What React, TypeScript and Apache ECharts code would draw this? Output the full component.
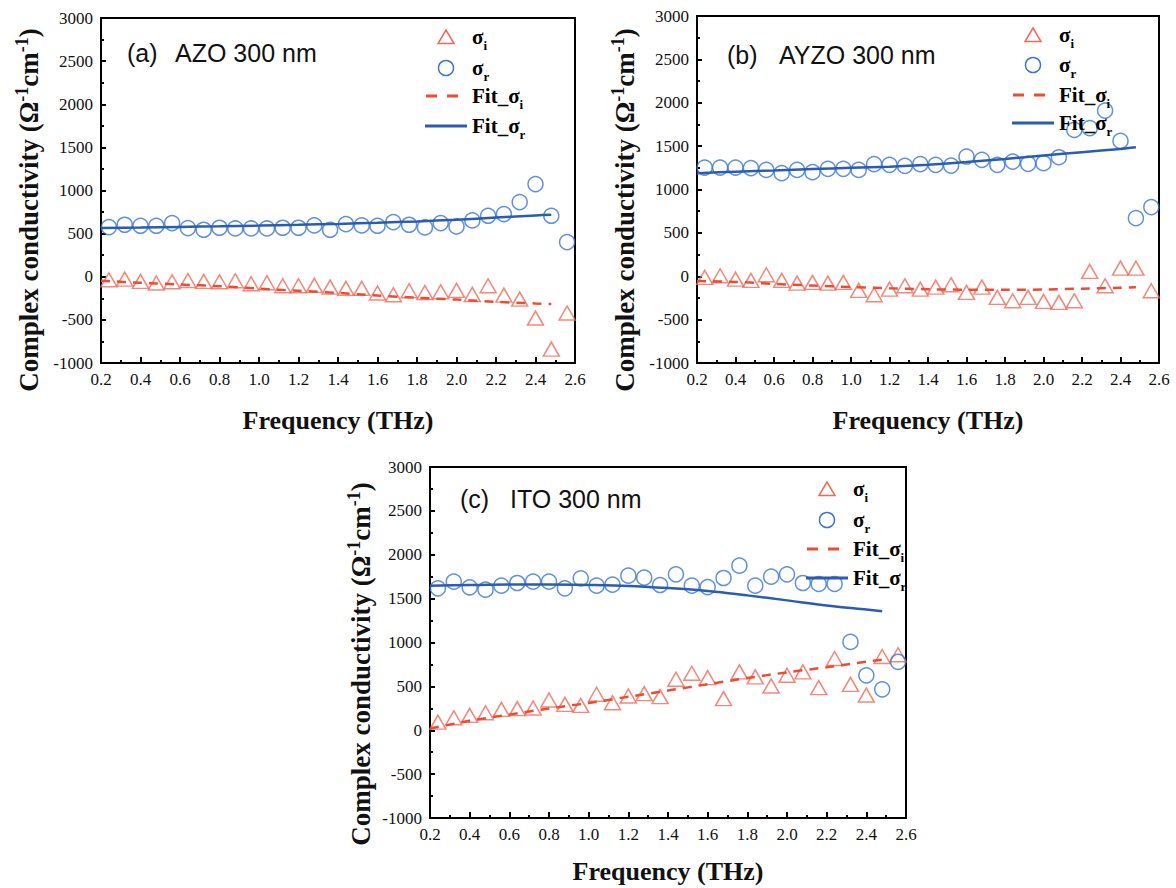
import React, { useEffect, useRef } from "react";
import * as echarts from "echarts";

// ---- data ----
const freq = [0.24, 0.32, 0.40, 0.48, 0.56, 0.64, 0.72, 0.80, 0.88, 0.96, 1.04, 1.12, 1.20, 1.28, 1.36, 1.44, 1.52, 1.60, 1.68, 1.76, 1.84, 1.92, 2.00, 2.08, 2.16, 2.24, 2.32, 2.40, 2.48, 2.56];
const fitFreq = [0.2, 0.4, 0.6, 0.8, 1.0, 1.2, 1.4, 1.6, 1.8, 2.0, 2.2, 2.4, 2.48];

const azoSigmaR = [576, 603, 591, 591, 622, 564, 545, 568, 560, 560, 560, 568, 568, 595, 545, 610, 595, 591, 634, 603, 572, 622, 584, 653, 707, 727, 866, 1074, 707, 402];
const azoSigmaI = [-35, -27, -54, -73, -58, -43, -54, -58, -46, -81, -70, -104, -104, -100, -120, -135, -135, -189, -209, -162, -182, -174, -158, -205, -104, -213, -259, -479, -839, -421];
const azoFitR = [564, 570, 578, 585, 593, 602, 613, 626, 642, 661, 686, 711, 720];
const azoFitI = [-45, -70, -90, -110, -138, -163, -188, -218, -243, -265, -290, -310, -317];

const ayzoSigmaR = [1253, 1253, 1253, 1246, 1226, 1188, 1226, 1200, 1238, 1238, 1226, 1292, 1284, 1273, 1292, 1284, 1276, 1380, 1342, 1284, 1322, 1296, 1303, 1372, 1687, 1707, 1910, 1560, 670, 797];
const ayzoSigmaI = [-13, 6, -33, -48, 17, -48, -79, -71, -79, -71, -163, -213, -148, -109, -148, -125, -98, -186, -125, -244, -282, -244, -290, -301, -282, 56, -109, 94, 94, -167];
const ayzoFitR = [1188, 1205, 1220, 1236, 1250, 1263, 1285, 1316, 1352, 1392, 1430, 1468, 1488];
const ayzoFitI = [-55, -65, -88, -107, -125, -139, -150, -155, -156, -153, -143, -132, -128];

const itoSigmaR = [1617, 1693, 1629, 1602, 1648, 1678, 1693, 1693, 1617, 1731, 1648, 1659, 1762, 1739, 1655, 1777, 1648, 1632, 1735, 1876, 1648, 1750, 1777, 1678, 1667, 1667, 1007, 626, 466, 780];
const itoSigmaI = [93, 143, 170, 200, 238, 246, 253, 345, 295, 284, 410, 314, 390, 417, 383, 581, 650, 600, 360, 665, 608, 505, 627, 665, 486, 817, 523, 401, 840, 860];
const itoFitR = [1648, 1655, 1660, 1660, 1655, 1645, 1620, 1587, 1537, 1480, 1422, 1375, 1356];
const itoFitI = [20, 108, 178, 248, 310, 382, 452, 525, 595, 660, 718, 782, 805];

const panelTags = ["(a)", "(b)", "(c)"];
const panelNames = ["AZO 300 nm", "AYZO 300 nm", "ITO 300 nm"];
const legendNames = ["σi", "σr", "Fit_σi", "Fit_σr"];
const yTitle = "Complex conductivity";
const xTitle = "Frequency (THz)";

// ---- layout / style ----
const SERIF = "Liberation Serif";
const SANS = "Liberation Sans";
const RED = "#f06a5a";
const BLUE = "#3a76d2";
const FIT_RED = "#ee4a34";
const FIT_BLUE = "#2b5cb0";

const grids = [
  { left: 101, top: 18, width: 474, height: 345 },
  { left: 697, top: 16, width: 462, height: 347 },
  { left: 430, top: 467, width: 476, height: 351 },
];
const legendPos = [
  { x: 425, rows: [37, 68, 96, 126] },
  { x: 1012, rows: [35, 65, 95, 123] },
  { x: 806, rows: [489, 520, 549, 578] },
];
const tagOffset = [
  { tx: 26, nx: 74, y: 53 },
  { tx: 30, nx: 82, y: 55 },
  { tx: 30, nx: 80, y: 499 },
];
const yTitlePos = [
  { x: 29, y: 210 },
  { x: 625, y: 210 },
  { x: 361, y: 664 },
];
const xTitleY = [420, 420, 871];

function pairs(xs: number[], ys: number[]) {
  return xs.map((x, i) => [x, ys[i]]);
}

export default function App() {
  const ref = useRef<HTMLDivElement>(null);
  useEffect(() => {
    if (!ref.current) return;
    const chart = echarts.init(ref.current, undefined, { renderer: "svg" });
    const sets = [
      [azoSigmaI, azoSigmaR, azoFitI, azoFitR],
      [ayzoSigmaI, ayzoSigmaR, ayzoFitI, ayzoFitR],
      [itoSigmaI, itoSigmaR, itoFitI, itoFitR],
    ];

    const labelStyle = { fontFamily: SERIF, fontSize: 17, color: "#111" };
    const xAxes = grids.map((_, i) => ({
      type: "value",
      gridIndex: i,
      min: 0.2,
      max: 2.6,
      interval: 0.2,
      axisLine: { show: true, onZero: false, lineStyle: { color: "#000", width: 2 } },
      axisTick: { show: true, inside: true, length: 6, lineStyle: { color: "#000", width: 2 } },
      minorTick: { show: true, splitNumber: 2, length: 3, lineStyle: { color: "#000", width: 2 } },
      splitLine: { show: false },
      axisLabel: { ...labelStyle, margin: 8, formatter: (v: number) => v.toFixed(1) },
    }));
    const yAxes = grids.map((_, i) => ({
      type: "value",
      gridIndex: i,
      min: -1000,
      max: 3000,
      interval: 500,
      axisLine: { show: true, onZero: false, lineStyle: { color: "#000", width: 2 } },
      axisTick: { show: true, inside: true, length: 5, lineStyle: { color: "#000", width: 2 } },
      minorTick: { show: true, splitNumber: 2, length: 3, lineStyle: { color: "#000", width: 2 } },
      splitLine: { show: false },
      axisLabel: { ...labelStyle, margin: 8, formatter: (v: number) => String(v) },
    }));

    const series: any[] = [];
    sets.forEach((s, i) => {
      series.push({
        name: legendNames[0],
        type: "scatter",
        xAxisIndex: i,
        yAxisIndex: i,
        symbol: "triangle",
        symbolSize: [16, 14],
        itemStyle: { color: "rgba(255,255,255,0)", borderColor: RED, borderWidth: 1.5 },
        data: pairs(freq, s[0]),
        z: 2,
      });
      series.push({
        name: legendNames[1],
        type: "scatter",
        xAxisIndex: i,
        yAxisIndex: i,
        symbol: "circle",
        symbolSize: 15,
        itemStyle: { color: "rgba(255,255,255,0)", borderColor: BLUE, borderWidth: 1.5 },
        data: pairs(freq, s[1]),
        z: 2,
      });
      series.push({
        name: legendNames[2],
        type: "line",
        xAxisIndex: i,
        yAxisIndex: i,
        symbol: "none",
        smooth: 0.3,
        lineStyle: { color: FIT_RED, width: 2.5, type: [9, 7] },
        itemStyle: { color: FIT_RED },
        data: pairs(fitFreq, s[2]),
        z: 3,
      });
      series.push({
        name: legendNames[3],
        type: "line",
        xAxisIndex: i,
        yAxisIndex: i,
        symbol: "none",
        smooth: 0.3,
        lineStyle: { color: FIT_BLUE, width: 2.5 },
        itemStyle: { color: FIT_BLUE },
        data: pairs(fitFreq, s[3]),
        z: 3,
      });
    });

    const legendRich = {
      b: { fontFamily: SERIF, fontWeight: "bold", fontSize: 21, fill: "#000", color: "#000", lineHeight: 22, verticalAlign: "middle" },
      s: { fontFamily: SERIF, fontWeight: "bold", fontSize: 13, fill: "#000", color: "#000", lineHeight: 29, verticalAlign: "bottom" },
    };

    const graphics: any[] = [];
    legendPos.forEach((lp) => {
      const cx = lp.x + 21;
      const [r0, r1, r2, r3] = lp.rows;
      graphics.push({
        type: "polygon",
        z: 100,
        shape: { points: [[cx - 8, r0 + 6.5], [cx + 8, r0 + 6.5], [cx, r0 - 7]] },
        style: { fill: "none", stroke: RED, lineWidth: 1.5 },
      });
      graphics.push({
        type: "circle",
        z: 100,
        shape: { cx, cy: r1, r: 7.5 },
        style: { fill: "none", stroke: BLUE, lineWidth: 1.5 },
      });
      graphics.push({
        type: "line",
        z: 100,
        shape: { x1: lp.x + 1, y1: r2, x2: lp.x + 33, y2: r2 },
        style: { stroke: FIT_RED, lineWidth: 3, lineDash: [11, 10] },
      });
      graphics.push({
        type: "line",
        z: 100,
        shape: { x1: lp.x, y1: r3, x2: lp.x + 42, y2: r3 },
        style: { stroke: FIT_BLUE, lineWidth: 3 },
      });
      legendNames.forEach((nm, k) => {
        graphics.push({
          type: "text",
          z: 100,
          x: lp.x + 47,
          y: lp.rows[k],
          style: {
            text: `{b|${nm.slice(0, -1)}}{s|${nm.slice(-1)}}`,
            align: "left",
            verticalAlign: "middle",
            rich: legendRich,
          },
        });
      });
    });

    grids.forEach((g, i) => {
      graphics.push({
        type: "text",
        x: g.left + tagOffset[i].tx,
        y: tagOffset[i].y,
        style: { text: panelTags[i], fontFamily: SANS, fontSize: 25, fill: "#111", verticalAlign: "middle", align: "left" },
      });
      graphics.push({
        type: "text",
        x: g.left + tagOffset[i].nx,
        y: tagOffset[i].y,
        style: { text: panelNames[i], fontFamily: SANS, fontSize: 25, fill: "#111", verticalAlign: "middle", align: "left" },
      });
      graphics.push({
        type: "text",
        x: g.left + g.width / 2,
        y: xTitleY[i],
        style: { text: xTitle, fontFamily: SERIF, fontWeight: "bold", fontSize: 26, fill: "#111", align: "center", verticalAlign: "middle" },
      });
      graphics.push({
        type: "text",
        x: yTitlePos[i].x,
        y: yTitlePos[i].y,
        rotation: Math.PI / 2,
        style: {
          text: `{t|${yTitle} (Ω}{p|-1}{t|cm}{p|-1}{t|)}`,
          align: "center",
          verticalAlign: "middle",
          rich: {
            t: { fontFamily: SERIF, fontWeight: "bold", fontSize: 27, fill: "#111", color: "#111", lineHeight: 33, verticalAlign: "middle" },
            p: { fontFamily: SERIF, fontWeight: "bold", fontSize: 18, fill: "#111", color: "#111", lineHeight: 33, verticalAlign: "top" },
          },
        },
      });
    });

    chart.setOption({
      animation: false,
      backgroundColor: "#fff",
      grid: grids.map((g) => ({ ...g, show: true, borderColor: "#000", borderWidth: 2, backgroundColor: "transparent" })),
      xAxis: xAxes,
      yAxis: yAxes,
      series,
      graphic: graphics,
    });
    return () => chart.dispose();
  }, []);
  return <div ref={ref} style={{ position: "fixed", left: 0, top: 0, width: 1176, height: 888 }} />;
}
